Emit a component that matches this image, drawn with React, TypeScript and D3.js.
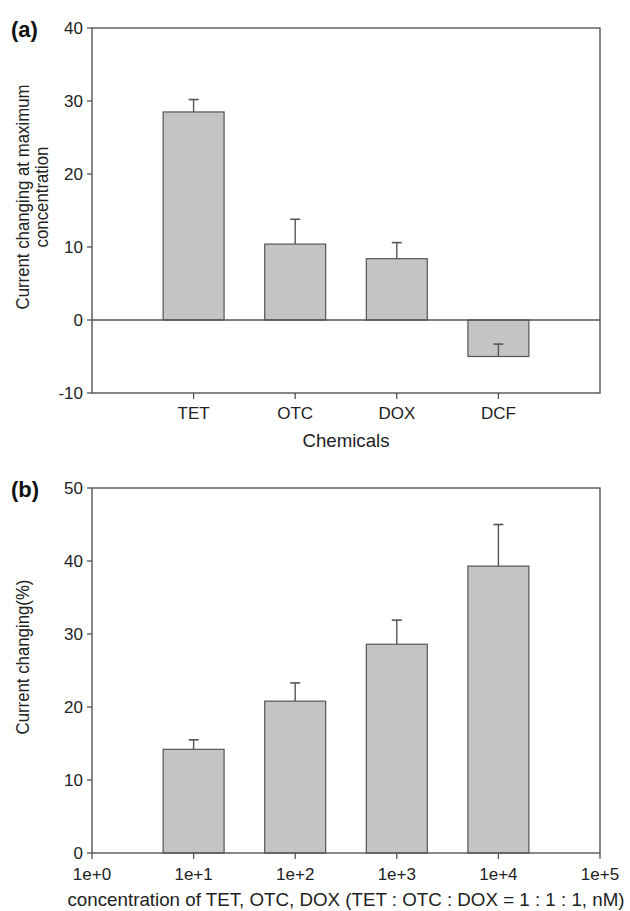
import React from "react";
import * as d3 from "d3";

const chemicals = ["TET", "OTC", "DOX", "DCF"];
const chemValues = [28.5, 10.4, 8.4, -5.0];
const chemErrEnd = [30.2, 13.8, 10.6, -3.3];
const ticksA = [-10, 0, 10, 20, 30, 40];

const concLabels = ["1e+0", "1e+1", "1e+2", "1e+3", "1e+4", "1e+5"];
const concBars = ["1e+1", "1e+2", "1e+3", "1e+4"];
const concValues = [14.2, 20.8, 28.6, 39.3];
const concErrEnd = [15.5, 23.3, 31.9, 45.0];
const ticksB = [0, 10, 20, 30, 40, 50];

const FONT = "'Liberation Sans', Arial, sans-serif";
const TXT = "#222";
const AX = "#555";
const BAR = "#c4c4c4";

function Panel(props: {
  top: number;
  bottom: number;
  domain: [number, number];
  ticks: number[];
  cats: string[];
  tickCats: string[];
  labelAll: boolean;
  values: number[];
  errEnd: number[];
  letter: string;
  ylabel: string[];
  ylabelMid: number;
  xlabel: string;
  xlabelY: number;
  xlabelLen: number;
  tickLabelY: number;
}) {
  const left = 92;
  const right = 600;
  const x = d3.scalePoint<string>().domain(props.tickCats).range([left, right]);
  const step = x.step();
  const y = d3.scaleLinear().domain(props.domain).range([props.bottom, props.top]);
  const bw = step * 0.6;
  const labelXs = props.ylabel.length === 2 ? [29, 48] : [29];
  return (
    <g>
      {props.cats.map((c, i) => {
        const v = props.values[i];
        const y0 = y(0);
        const y1 = y(v);
        const cx = x(c)!;
        return (
          <rect
            key={c}
            x={cx - bw / 2}
            y={Math.min(y0, y1)}
            width={bw}
            height={Math.abs(y1 - y0)}
            fill={BAR}
            stroke={AX}
            strokeWidth={1.2}
          />
        );
      })}
      {props.cats.map((c, i) => {
        const cx = x(c)!;
        const ye = y(props.errEnd[i]);
        return (
          <g key={c}>
            <line x1={cx} x2={cx} y1={y(props.values[i])} y2={ye} stroke={AX} strokeWidth={1.4} />
            <line x1={cx - 5} x2={cx + 5} y1={ye} y2={ye} stroke={AX} strokeWidth={1.6} />
          </g>
        );
      })}
      {props.domain[0] < 0 && (
        <line x1={left} x2={right} y1={y(0)} y2={y(0)} stroke={AX} strokeWidth={1.3} />
      )}
      <rect x={left} y={props.top} width={right - left} height={props.bottom - props.top} fill="none" stroke={AX} strokeWidth={1.4} />
      {props.ticks.map((t) => (
        <g key={t}>
          <line x1={left - 5} x2={left} y1={y(t)} y2={y(t)} stroke={AX} strokeWidth={1.3} />
          <text x={83} y={y(t) + 6} textAnchor="end" fontSize={17} fontFamily={FONT} fill={TXT}>
            {t}
          </text>
        </g>
      ))}
      {props.tickCats.map((c) => {
        const isBar = props.cats.includes(c);
        if (!isBar && !props.labelAll) return null;
        return (
          <g key={c}>
            <line x1={x(c)!} x2={x(c)!} y1={props.bottom} y2={props.bottom + 6} stroke={AX} strokeWidth={1.3} />
            <text x={x(c)!} y={props.tickLabelY} textAnchor="middle" fontSize={17} fontFamily={FONT} fill={TXT}>
              {c}
            </text>
          </g>
        );
      })}
      <text
        x={346}
        y={props.xlabelY}
        textAnchor="middle"
        fontSize={18.5}
        fontFamily={FONT}
        fill={TXT}
        textLength={props.xlabelLen}
        lengthAdjust="spacingAndGlyphs"
      >
        {props.xlabel}
      </text>
      {props.ylabel.map((l, i) => (
        <text
          key={i}
          transform={`translate(${labelXs[i]},${props.ylabelMid}) scale(1.12,1) rotate(-90)`}
          textAnchor="middle"
          fontSize={16.8}
          fontFamily={FONT}
          fill={TXT}
        >
          {l}
        </text>
      ))}
      <text x={11} y={props.top + 9} fontSize={22} fontWeight="bold" fontFamily={FONT} fill="#111">
        {props.letter}
      </text>
    </g>
  );
}

export default function App() {
  const catsA = ["", ...chemicals, " "];
  return (
    <svg width={630} height={911} style={{ position: "absolute", left: 0, top: 0, background: "#fff" }}>
      <rect width={630} height={911} fill="#fff" />
      <Panel
        top={28}
        bottom={393}
        domain={[-10, 40]}
        ticks={ticksA}
        cats={chemicals}
        tickCats={catsA}
        labelAll={false}
        values={chemValues}
        errEnd={chemErrEnd}
        letter="(a)"
        ylabel={["Current changing at maximum", "concentration"]}
        ylabelMid={197}
        xlabel="Chemicals"
        xlabelY={447}
        xlabelLen={87}
        tickLabelY={419}
      />
      <Panel
        top={488}
        bottom={853}
        domain={[0, 50]}
        ticks={ticksB}
        cats={concBars}
        tickCats={concLabels}
        labelAll={true}
        values={concValues}
        errEnd={concErrEnd}
        letter="(b)"
        ylabel={["Current changing(%)"]}
        ylabelMid={657}
        xlabel="concentration of TET, OTC, DOX (TET : OTC : DOX = 1 : 1 : 1, nM)"
        xlabelY={906}
        xlabelLen={557}
        tickLabelY={880}
      />
    </svg>
  );
}
